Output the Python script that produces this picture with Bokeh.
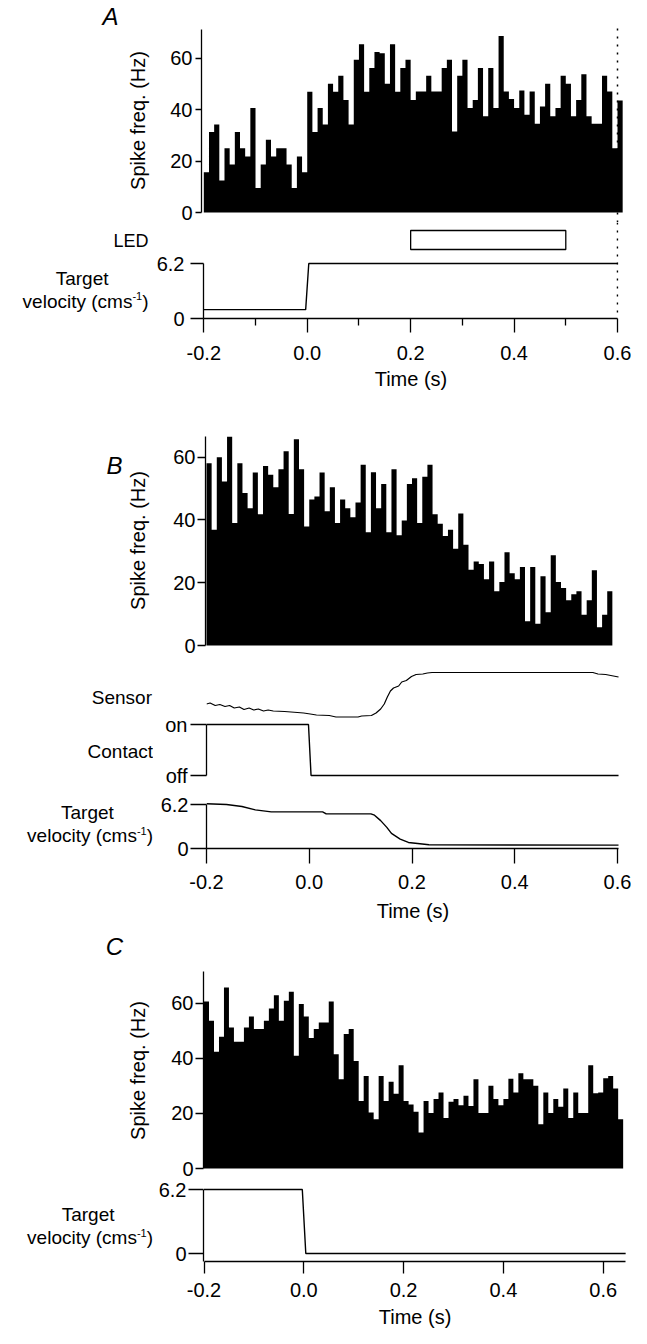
import math
from bokeh.plotting import figure
from bokeh.models import Range1d, LinearAxis, FixedTicker, Label, Span
from bokeh.layouts import column, row
from bokeh.embed import file_html
from bokeh.resources import INLINE

FONT = "Liberation Sans"

# ---------------- data ----------------
bin_width = 0.01          # s
hist_start = -0.2         # s

histA = [15.7, 31.3, 34.2, 12.5, 25.0, 18.7, 31.3, 25.0, 21.8, 40.7,
         9.5, 18.7, 28.3, 21.8, 25.0, 25.0, 18.7, 9.5, 21.8, 15.7,
         47.0, 31.3, 40.7, 34.2, 50.1, 47.0, 53.2, 43.8, 34.2, 59.4,
         65.5, 47.0, 56.2, 62.5, 62.0, 50.1, 65.5, 47.0, 56.2, 59.4,
         43.8, 47.1, 47.1, 53.2, 47.1, 47.1, 56.2, 59.4, 31.5, 53.2,
         59.4, 40.7, 43.8, 56.2, 37.5, 56.2, 40.7, 68.7, 47.1, 44.2,
         40.7, 47.5, 38.0, 47.1, 34.5, 41.2, 50.1, 37.5, 40.7, 53.2,
         50.1, 37.5, 43.8, 53.8, 37.5, 34.5, 34.5, 53.2, 47.1, 25.0,
         43.6]

histB = [58.1, 36.9, 60.0, 52.3, 66.6, 39.0, 58.1, 48.6, 43.7, 55.1,
         41.8, 57.2, 54.4, 50.4, 56.2, 61.9, 41.9, 65.7, 56.2, 37.9,
         46.5, 47.5, 55.1, 42.8, 50.4, 39.0, 46.5, 43.7, 40.9, 45.6,
         57.6, 36.1, 55.2, 43.7, 51.5, 36.1, 56.2, 35.1, 39.8, 51.5,
         53.3, 39.0, 53.8, 57.6, 41.8, 38.8, 34.9, 36.9, 30.8, 42.1,
         32.1, 24.1, 26.8, 26.0, 21.1, 26.8, 17.3, 20.2, 29.7, 23.0,
         21.1, 25.0, 7.7, 25.0, 6.9, 22.1, 10.6, 28.8, 20.2, 18.3,
         14.4, 16.3, 17.3, 9.8, 14.4, 24.0, 5.8, 9.8, 17.3]

histC = [60.6, 53.6, 42.4, 47.8, 65.7, 51.2, 46.0, 46.0, 51.2, 55.2,
         50.6, 50.6, 53.6, 58.1, 62.9, 53.6, 60.9, 64.2, 40.9, 59.7,
         55.2, 47.4, 50.6, 53.0, 53.0, 60.6, 41.5, 32.4, 48.8, 50.6,
         39.0, 24.5, 33.6, 20.3, 17.9, 33.6, 24.5, 31.5, 27.1, 37.5,
         24.5, 23.2, 20.6, 13.1, 24.5, 20.1, 25.2, 27.6, 18.3, 24.2,
         25.2, 23.0, 26.4, 22.7, 32.4, 20.1, 20.1, 30.0, 25.2, 23.0,
         25.2, 32.6, 27.6, 34.6, 32.4, 32.4, 30.0, 16.1, 27.6, 20.1,
         25.2, 22.4, 29.0, 18.3, 27.6, 20.1, 20.1, 37.5, 27.3, 27.6,
         32.8, 33.6, 29.0, 17.9]

led_on, led_off = 0.2, 0.5
marker_time = 0.6

velA_t = [-0.2, -0.003, 0.003, 0.6]
velA_v = [1.0, 1.0, 6.2, 6.2]

sensor_t = [-0.2, -0.193, -0.183, -0.174, -0.164, -0.155, -0.146, -0.136, -0.127,
            -0.117, -0.108, -0.099, -0.089, -0.080, -0.070, -0.048, -0.023, -0.011,
            0.002, 0.014, 0.039, 0.052, 0.095, 0.102, 0.121, 0.130, 0.139, 0.146,
            0.152, 0.158, 0.164, 0.174, 0.180, 0.189, 0.199, 0.208, 0.221, 0.230,
            0.239, 0.552, 0.562, 0.577, 0.602]
sensor_v = [0.33, 0.35, 0.30, 0.32, 0.28, 0.30, 0.25, 0.27, 0.22, 0.25, 0.21, 0.23,
            0.19, 0.21, 0.19, 0.18, 0.16, 0.15, 0.13, 0.11, 0.10, 0.07, 0.07, 0.09,
            0.10, 0.15, 0.23, 0.33, 0.47, 0.59, 0.65, 0.69, 0.77, 0.80, 0.88, 0.92,
            0.93, 0.95, 0.96, 0.96, 0.93, 0.92, 0.87]

contact_t = [-0.2, -0.0015, 0.0035, 0.602]
contact_v = [1, 1, 0, 0]

velB_t = [-0.2, -0.161, -0.131, -0.105, -0.074, 0.026, 0.033, 0.120, 0.127, 0.139,
          0.151, 0.160, 0.177, 0.193, 0.211, 0.233, 0.602]
velB_v = [6.3, 6.2, 5.92, 5.45, 5.16, 5.16, 4.88, 4.88, 4.69, 3.93, 2.98, 2.13,
          1.33, 0.85, 0.71, 0.52, 0.48]

velC_t = [-0.2, -0.003, 0.004, 0.645]
velC_v = [6.2, 6.2, 0.0, 0.0]

time_ticks = [-0.2, 0.0, 0.2, 0.4, 0.6]
time_minor_A = [-0.1, 0.1, 0.3, 0.5]
freq_ticks = [0, 20, 40, 60]
vel_ticks = [0, 6.2]
contact_labels = {0: "off", 1: "on"}

# ---------------- layout helpers (pixel geometry of the page) ----------------
TOTAL_W = 631
TW = 153            # left text column
PW = TOTAL_W - TW   # plot column
LW = 1.3
TICK_FS = "20px"
LAB_FS = "20px"
TXT_FS = "19px"


def xr(fleft, fright, t0px, pxps):
    return Range1d(-0.2 + (fleft - t0px) / pxps, -0.2 + (fright - t0px) / pxps)


def yr(ftop, fbot, zero_px, ppu):
    return Range1d((zero_px - fbot) / ppu, (zero_px - ftop) / ppu)


def clean(p):
    p.outline_line_color = None
    p.background_fill_color = "white"
    p.border_fill_color = "white"
    for g in p.grid:
        g.visible = False


def band(top, bottom, ftop, fbot, fleft, fright, x_range, y_range):
    p = figure(width=PW, height=bottom - top, x_range=x_range, y_range=y_range,
               min_border_top=ftop - top, min_border_bottom=bottom - fbot,
               min_border_left=fleft - TW, min_border_right=TOTAL_W - fright,
               toolbar_location=None, output_backend="svg",
               x_axis_location=None, y_axis_location=None)
    clean(p)
    t = figure(width=TW, height=bottom - top, x_range=Range1d(0, TW),
               y_range=Range1d(fbot, ftop),
               min_border_left=0, min_border_right=0,
               min_border_top=ftop - top, min_border_bottom=bottom - fbot,
               toolbar_location=None, output_backend="svg",
               x_axis_location=None, y_axis_location=None)
    clean(t)
    return p, t


def text(t, s, px, py, align="center", size=TXT_FS, angle=0.0, style="normal"):
    # (px, py) = horizontal anchor and vertical centre of the text
    t.add_layout(Label(x=px, y=py, text=s, text_align=align, text_baseline="middle",
                       text_font=FONT, text_font_size=size, text_font_style=style,
                       text_color="black", angle=angle))


def vel_label(t, right, mid):
    # "velocity (cms-1)" with a raised "-1"
    fs, ss = 19, 11
    w_paren = 0.333 * fs
    w_sup = 0.889 * ss
    text(t, ")", right, mid, align="right")
    text(t, "-1", right - w_paren, mid - 5, align="right", size=f"{ss}px")
    text(t, "velocity (cms", right - w_paren - w_sup, mid, align="right")


def style_axis(ax, tick_out, standoff):
    ax.axis_line_width = LW
    ax.axis_line_color = "black"
    ax.major_tick_line_width = LW
    ax.major_tick_line_color = "black"
    ax.minor_tick_line_width = LW
    ax.minor_tick_line_color = "black"
    ax.major_tick_in = 0
    ax.major_tick_out = int(tick_out)
    ax.minor_tick_in = 0
    ax.major_label_standoff = int(standoff)
    ax.major_label_text_font = FONT
    ax.major_label_text_font_size = TICK_FS
    ax.major_label_text_color = "black"


def hist(p, vals):
    n = len(vals)
    edges = [hist_start + bin_width * i for i in range(n + 1)]
    tops = list(vals) + [vals[-1]]
    p.varea_step(x=edges, y1=[0] * (n + 1), y2=tops, step_mode="after",
                 fill_color="black")


def freq_axis(p, top_val, tick_out, standoff):
    ax = LinearAxis(ticker=FixedTicker(ticks=freq_ticks, minor_ticks=[]))
    ax.bounds = (0, top_val)
    style_axis(ax, tick_out, standoff)
    p.add_layout(ax, "left")


def vel_axis(p, tick_out, standoff, lower=0):
    ax = LinearAxis(ticker=FixedTicker(ticks=vel_ticks, minor_ticks=[]))
    ax.bounds = (lower, 6.2)
    ax.major_label_overrides = {0: "0", 6.2: "6.2"}
    style_axis(ax, tick_out, standoff)
    p.add_layout(ax, "left")


def time_axis(p, tick_out, standoff, hi, minor=None, title=None, title_standoff=5):
    ax = LinearAxis(ticker=FixedTicker(ticks=time_ticks, minor_ticks=minor or []))
    ax.bounds = (-0.2, hi)
    ax.major_label_overrides = {t: f"{t:.1f}" for t in time_ticks}
    style_axis(ax, tick_out, standoff)
    ax.minor_tick_out = 7
    if title:
        ax.axis_label = title
        ax.axis_label_standoff = title_standoff
        ax.axis_label_text_font = FONT
        ax.axis_label_text_font_size = LAB_FS
        ax.axis_label_text_font_style = "normal"
        ax.axis_label_text_color = "black"
    p.add_layout(ax, "below")


DOT = dict(line_color="black", line_width=1.5, line_dash="2 6")

rows = []

# ================= Panel A =================
A_T0, A_PX = 203.3, (617 - 203.3) / 0.8
a1, ta1 = band(0, 222, 0, 222, 201, 623,
               xr(201, 623, A_T0, A_PX), yr(0, 222, 212, 2.57))
hist(a1, histA)
freq_axis(a1, (212 - 29) / 2.57, 6, 3)
a1.segment(x0=[marker_time], y0=[(212 - 222) / 2.57], x1=[marker_time],
           y1=[(212 - 27) / 2.57], **DOT)
text(ta1, "A", 110, 16, size="24px", style="italic")
text(ta1, "Spike freq. (Hz)", 137, 120, size=LAB_FS, angle=math.pi / 2)
rows.append(row(ta1, a1, spacing=0))

a2, ta2 = band(222, 395, 222, 318, 203, 618,
               xr(203, 618, A_T0, A_PX), yr(222, 318, 318, 55 / 6.2))
a2.extra_y_ranges = {"led": yr(222, 318, 249, 19)}
a2.quad(left=[led_on], right=[led_off], bottom=[0], top=[1], y_range_name="led",
        fill_color=None, line_color="black", line_width=LW)
a2.line(velA_t, velA_v, line_color="black", line_width=1.4)
a2.add_layout(Span(location=marker_time, dimension="height", **DOT))
vel_axis(a2, 13, 6)
time_axis(a2, 14, 13, 0.6, time_minor_A, title="Time (s)", title_standoff=5)
text(ta2, "LED", 148, 240, align="right", size="18px")
text(ta2, "Target", 108, 277.5, align="right")
vel_label(ta2, 148, 300.5)
rows.append(row(ta2, a2, spacing=0))

# ================= Panel B =================
B_T0, B_PX = 206, (617 - 206) / 0.8
b1, tb1 = band(395, 655, 436, 655, 205, 619,
               xr(205, 619, B_T0, B_PX), yr(436, 655, 645, 3.138))
hist(b1, histB)
freq_axis(b1, (645 - 436) / 3.138, 8, 2)
text(tb1, "B", 114, 465, size="24px", style="italic")
text(tb1, "Spike freq. (Hz)", 137, 540, size=LAB_FS, angle=math.pi / 2)
rows.append(row(tb1, b1, spacing=0))

b2, tb2 = band(655, 790, 655, 790, 206, 619,
               xr(206, 619, B_T0, B_PX), yr(655, 790, 775, 51))
b2.extra_y_ranges = {"sensor": yr(655, 790, 720, 50)}
b2.line(sensor_t, sensor_v, y_range_name="sensor", line_color="black", line_width=1.2)
b2.line(contact_t, contact_v, line_color="black", line_width=1.4)
cax = LinearAxis(ticker=FixedTicker(ticks=[0, 1], minor_ticks=[]))
cax.bounds = (0, 1)
cax.major_label_overrides = contact_labels
style_axis(cax, 16, 3)
b2.add_layout(cax, "left")
text(tb2, "Sensor", 151.5, 696.5, align="right")
text(tb2, "Contact", 152.5, 750.5, align="right")
rows.append(row(tb2, b2, spacing=0))

b3, tb3 = band(790, 930, 790, 848, 206, 619,
               xr(206, 619, B_T0, B_PX), yr(790, 848, 848, 44 / 6.2))
b3.line(velB_t, velB_v, line_color="black", line_width=1.4)
vel_axis(b3, 16, 2)
time_axis(b3, 15, 11, 0.602, title="Time (s)", title_standoff=8)
text(tb3, "Target", 113.3, 811.5, align="right")
vel_label(tb3, 152.5, 835)
rows.append(row(tb3, b3, spacing=0))

# ================= Panel C =================
C_T0, C_PX = 203.5, 499.0
c1, tc1 = band(930, 1178, 930, 1178, 203, 624,
               xr(203, 624, C_T0, C_PX), yr(930, 1178, 1168, 2.755))
hist(c1, histC)
freq_axis(c1, (1168 - 971) / 2.755, 8, 2)
text(tc1, "C", 114, 946, size="24px", style="italic")
text(tc1, "Spike freq. (Hz)", 137, 1070, size=LAB_FS, angle=math.pi / 2)
rows.append(row(tc1, c1, spacing=0))

c2, tc2 = band(1178, 1305, 1178, 1261, 203, 626,
               xr(203, 626, C_T0, C_PX), yr(1178, 1261, 1253, 64 / 6.2))
c2.line(velC_t, velC_v, line_color="black", line_width=1.4)
vel_axis(c2, 15, 2, lower=(1253 - 1261) / (64 / 6.2))
time_axis(c2, 12, 9, 0.645)
text(tc2, "Target", 114, 1213.5, align="right")
vel_label(tc2, 152.5, 1237)
rows.append(row(tc2, c2, spacing=0))

# strip carrying the last time-axis title
strip = figure(width=TOTAL_W, height=23, x_range=Range1d(0, TOTAL_W),
               y_range=Range1d(1328, 1305),
               min_border_left=0, min_border_right=0, min_border_top=0,
               min_border_bottom=0, toolbar_location=None, output_backend="svg",
               x_axis_location=None, y_axis_location=None)
clean(strip)
text(strip, "Time (s)", (203 + 626) / 2, 1316.5, size=LAB_FS)
rows.append(strip)

layout = column(*rows, spacing=0)
open("out.html", "w").write(file_html(layout, INLINE))
